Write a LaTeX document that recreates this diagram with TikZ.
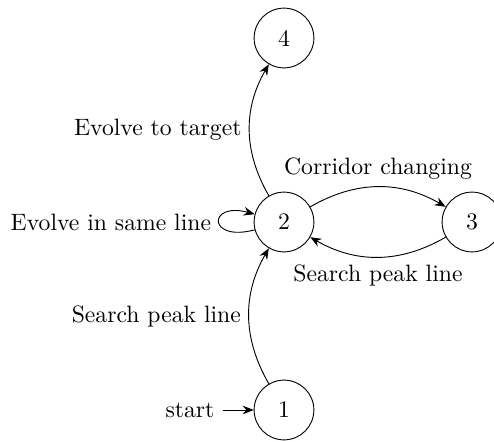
\documentclass[tikz,border=0pt]{standalone}
\usetikzlibrary{arrows.meta}
\begin{document}
\begin{tikzpicture}[x=0.435pt,y=-0.435pt,
  every node/.style={font=\fontsize{10.3pt}{12.4pt}\selectfont},
  statenode/.style={circle,draw,minimum size=26pt,inner sep=0pt},
  trans/.style={-{Stealth[length=4.8pt,width=3.8pt]}}]
\useasboundingbox (0,0) rectangle (494,442);
\node[statenode] (n4) at (284,38) {4};
\node[statenode] (n2) at (284,222) {2};
\node[statenode] (n3) at (472,222) {3};
\node[statenode] (n1) at (284,410) {1};
\node (start) at (190,410) {start};
\draw[trans] (start) -- (n1);
\draw[trans] (n1) to[bend left=30] node[auto] {Search peak line} (n2);
\draw[trans] (n2) to[bend left=30] node[auto] {Evolve to target} (n4);
\draw[trans] (n2) to[bend left=30] node[auto] {Corridor changing} (n3);
\draw[trans] (n3) to[bend left=30] node[auto] {Search peak line} (n2);
\draw[trans] (n2) to[loop left] node[left] {Evolve in same line} (n2);
\end{tikzpicture}
\end{document}
